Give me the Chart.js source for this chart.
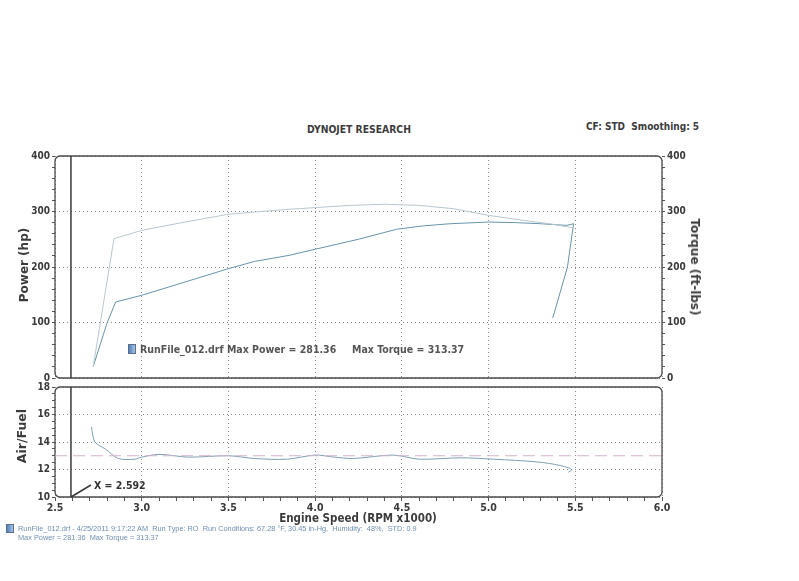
<!DOCTYPE html>
<html>
<head>
<meta charset="utf-8">
<script src="https://cdn.jsdelivr.net/npm/chart.js@4.4.1/dist/chart.umd.min.js"></script>
<style>
body{margin:0;background:#fff;width:799px;height:581px;overflow:hidden;position:relative;font-family:"DejaVu Sans Condensed","DejaVu Sans",sans-serif;color:#3c3c3c}
canvas{position:absolute;left:0}
.t{position:absolute;white-space:nowrap;font-weight:bold;line-height:1}
.rot{transform:translate(-50%,-50%) rotate(-90deg)}
.foot{position:absolute;white-space:nowrap;font-family:"Liberation Sans",Arial,sans-serif;font-size:7.35px;color:#6f8fae;line-height:1}
.icon{position:absolute;background:linear-gradient(90deg,#4f7fb8,#a9c4e6);border:1px solid #5a6f8a}
</style>
</head>
<body>
<canvas id="top" width="760" height="250" style="top:140px"></canvas>
<canvas id="afr" width="760" height="150" style="top:375px"></canvas>

<div class="t" style="left:307px;top:124px;font-size:10.3px">DYNOJET RESEARCH</div>
<div class="t" style="left:586px;top:122px;font-size:10px">CF: STD&nbsp; Smoothing: 5</div>
<div class="t rot" style="left:24px;top:265px;font-family:'DejaVu Sans';font-size:12px">Power (hp)</div>
<div class="t" style="left:695px;top:267px;font-family:'DejaVu Sans';font-size:12px;transform:translate(-50%,-50%) rotate(90deg)">Torque (ft-lbs)</div>
<div class="t rot" style="left:22px;top:436px;font-family:'DejaVu Sans';font-size:12.5px">Air/Fuel</div>
<div class="t" style="left:358px;top:519px;font-size:11.5px;transform:translate(-50%,-50%)">Engine Speed (RPM x1000)</div>

<div class="icon" style="left:128px;top:344px;width:6px;height:8px"></div>
<div class="t" style="left:140px;top:344px;font-size:10.5px;color:#555">RunFile_012.drf Max Power = 281.36</div>
<div class="t" style="left:352px;top:344px;font-size:10.5px;color:#555">Max Torque = 313.37</div>
<div class="t" style="left:94px;top:480px;font-size:10.5px;color:#333">X = 2.592</div>

<div class="icon" style="left:6px;top:524px;width:6px;height:7px"></div>
<div class="foot" style="left:18px;top:525px">RunFile_012.drf - 4/25/2011 9:17:22 AM&nbsp; Run Type: RO&nbsp; Run Conditions: 67.28 °F, 30.45 in-Hg,&nbsp; Humidity:&nbsp; 48%,&nbsp; STD: 0.9</div>
<div class="foot" style="left:18px;top:534px">Max Power = 281.36&nbsp; Max Torque = 313.37</div>

<script>
// values
const powerRpm = [2.72, 2.80, 2.85, 3.0, 3.25, 3.5, 3.65, 3.85, 4.0, 4.25, 4.47, 4.62, 4.78, 5.0, 5.15, 5.30, 5.45, 5.49, 5.455, 5.37];
const powerHp  = [20, 99, 137, 149, 173, 197, 210, 221, 232, 250, 268, 274, 278, 281, 280, 278, 275, 278, 200, 108];
const torqueRpm = [2.72, 2.84, 3.0, 3.25, 3.5, 3.65, 3.85, 4.0, 4.2, 4.4, 4.6, 4.8, 5.0, 5.2, 5.35, 5.48];
const torqueFt  = [20, 251, 266, 281, 295, 299, 304, 307, 311, 313, 311, 305, 293, 284, 278, 271];
const afrRpm = [2.71, 2.73, 2.79, 2.865, 2.96, 3.0, 3.1, 3.27, 3.5, 3.65, 3.84, 4.0, 4.11, 4.22, 4.45, 4.6, 4.84, 5.03, 5.28, 5.41, 5.48, 5.46];
const afrVal = [15.1, 14.0, 13.5, 12.8, 12.75, 12.9, 13.1, 12.9, 13.0, 12.8, 12.75, 13.05, 12.9, 12.8, 13.05, 12.75, 12.85, 12.75, 12.55, 12.3, 12.0, 11.8];
const targetAfr = 13;
const cursorRpm = 2.592;
const rpmMin = 2.5, rpmMax = 6.0;

const pts = (xs, ys) => xs.map((x, i) => ({ x, y: ys[i] }));

Chart.defaults.font.family = '"DejaVu Sans Condensed","DejaVu Sans",sans-serif';
Chart.defaults.color = '#3a3a3a';

const GRID = '#8c8c8c';
const isHalf = v => Math.abs(v * 2 - Math.round(v * 2)) < 1e-6;

// rounded frame + cursor line
const frame = {
  id: 'frame',
  beforeDatasetsDraw(chart) {
    const { ctx, chartArea: a } = chart;
    ctx.save();
    ctx.strokeStyle = '#4a4a4a';
    ctx.lineWidth = 1.3;
    ctx.beginPath();
    ctx.roundRect(a.left, a.top, a.right - a.left, a.bottom - a.top, 5);
    ctx.stroke();
    ctx.restore();
  },
  afterDatasetsDraw(chart) {
    const { ctx, chartArea: a, scales } = chart;
    const x = scales.x.getPixelForValue(cursorRpm);
    ctx.save();
    ctx.strokeStyle = '#3a3a3a';
    ctx.lineWidth = 1.5;
    ctx.beginPath();
    ctx.moveTo(x, a.top);
    ctx.lineTo(x, a.bottom);
    if (chart.canvas.id === 'afr') {
      ctx.moveTo(x, a.bottom);
      ctx.lineTo(x + 20, a.bottom - 12);
    }
    ctx.stroke();
    ctx.restore();
  }
};

const lineDs = (label, data, color, axis, extra) => Object.assign({
  label, data, borderColor: color, borderWidth: 1, pointRadius: 0, tension: 0, yAxisID: axis
}, extra || {});

new Chart(document.getElementById('top'), {
  type: 'line',
  data: {
    datasets: [
      lineDs('Torque', pts(torqueRpm, torqueFt), '#b8c7cf', 'yR'),
      lineDs('Power', pts(powerRpm, powerHp), '#6894a8', 'yL')
    ]
  },
  options: {
    responsive: false,
    animation: false,
    layout: { padding: { top: 16 } },
    plugins: { legend: { display: false }, tooltip: { enabled: false } },
    scales: {
      x: {
        type: 'linear', min: rpmMin, max: rpmMax,
        ticks: { display: false, stepSize: 0.5 },
        grid: { color: GRID, drawTicks: false },
        border: { display: false, dash: [1, 3] },
        afterFit: s => { s.height = 12; }
      },
      yL: {
        position: 'left', min: 0, max: 400,
        ticks: {
          stepSize: 20, autoSkip: false, padding: 2,
          font: { size: 10, weight: 'bold' },
          callback: v => (v % 100 === 0 ? v : '')
        },
        grid: {
          color: c => (c.tick && c.tick.value % 100 === 0 ? GRID : 'rgba(0,0,0,0)'),
          tickColor: '#555', tickLength: 3
        },
        border: { display: false, dash: [1, 3] },
        afterFit: s => { s.width = 55; }
      },
      yR: {
        position: 'right', min: 0, max: 400,
        ticks: {
          stepSize: 20, autoSkip: false, padding: 2,
          font: { size: 10, weight: 'bold' },
          callback: v => (v % 100 === 0 ? v : '')
        },
        grid: { drawOnChartArea: false, tickColor: '#555', tickLength: 3 },
        border: { display: false },
        afterFit: s => { s.width = 98; }
      }
    }
  },
  plugins: [frame]
});

new Chart(document.getElementById('afr'), {
  type: 'line',
  data: {
    datasets: [
      lineDs('Target', pts([rpmMin, rpmMax], [targetAfr, targetAfr]), '#d2b4cb', 'y', { borderDash: [12, 6] }),
      lineDs('Air/Fuel', pts(afrRpm, afrVal), '#7d9fb1', 'y', { tension: 0.3 })
    ]
  },
  options: {
    responsive: false,
    animation: false,
    layout: { padding: { top: 12, right: 98 } },
    plugins: { legend: { display: false }, tooltip: { enabled: false } },
    scales: {
      x: {
        type: 'linear', min: rpmMin, max: rpmMax,
        ticks: {
          stepSize: 0.1, autoSkip: false, maxRotation: 0, minRotation: 0, padding: 1,
          font: { size: 10.5, weight: 'bold' },
          callback: v => (isHalf(v) ? v.toFixed(1) : '')
        },
        grid: {
          color: c => (c.tick && isHalf(c.tick.value) ? GRID : 'rgba(0,0,0,0)'),
          tickColor: '#555', tickLength: 4
        },
        border: { display: false, dash: [1, 3] },
        afterFit: s => { s.height = 28; }
      },
      y: {
        position: 'left', min: 10, max: 18,
        ticks: {
          stepSize: 0.5, autoSkip: false, padding: 2,
          font: { size: 10, weight: 'bold' },
          callback: v => (v % 2 === 0 ? v : '')
        },
        grid: {
          color: c => (c.tick && c.tick.value % 2 === 0 ? GRID : 'rgba(0,0,0,0)'),
          tickColor: '#555', tickLength: 3
        },
        border: { display: false, dash: [1, 3] },
        afterFit: s => { s.width = 55; }
      }
    }
  },
  plugins: [frame]
});
</script>
</body>
</html>
